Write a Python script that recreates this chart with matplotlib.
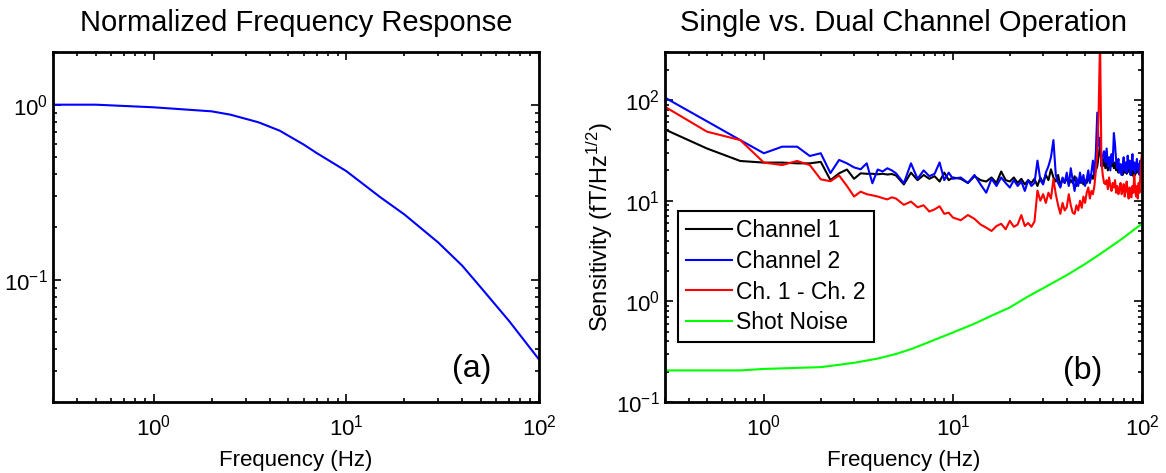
import numpy as np
import matplotlib
matplotlib.use("Agg")
import matplotlib.pyplot as plt
from matplotlib.ticker import NullFormatter, LogLocator

plt.rcParams['font.family'] = ['Liberation Sans', 'DejaVu Sans']
plt.rcParams['mathtext.default'] = 'regular'
plt.rcParams['axes.unicode_minus'] = False

# (a) normalized frequency response
freq_a = [0.3, 0.5, 1.0, 2.0, 2.5, 3.5, 4.5, 6.0, 7.0, 10.0, 15.0, 20.0, 30.0, 40.0, 50.0, 70.0, 100.0]
resp_a = [1.0, 1.0, 0.966, 0.916, 0.877, 0.793, 0.711, 0.592, 0.530, 0.417, 0.296, 0.236, 0.163, 0.120, 0.090, 0.058, 0.035]

# (b) sensitivity spectra, fT/Hz^1/2
freq_b = ([0.25 * k for k in range(1, 21)] + [5.0 + 0.5 * k for k in range(1, 11)]
          + list(range(11, 101)))

ch1 = [59.5, 33, 24.8, 23.9, 23.9, 23.5, 23.5, 24.3, 16, 18.7,
       20.4, 16.5, 18.7, 18.5, 18.5, 18.3, 18.5, 18.2, 18.4, 17.8,
       14.5, 19, 16, 18, 16.5, 17.5, 15.5, 19, 16, 17,
       16.5, 15, 17.5, 16, 15.5, 17, 15, 19.5, 16, 15.5,
       17, 15, 16.5, 14.5, 16, 15, 16.5, 14, 17, 15,
       18, 16, 20.5, 17, 15.5, 18, 14, 16.5, 15, 17,
       14.5, 16, 15, 17.5, 14, 16, 15, 17, 14.5, 16,
       15, 17, 15.5, 18, 16.5, 19, 20, 22, 28, 36,
       24, 22, 26, 21, 24, 20, 23, 27, 22, 25,
       21, 24, 20, 22, 19, 21, 23, 20, 18, 21,
       19, 22, 18.5, 20, 22, 19, 21, 18, 20, 17.5,
       19.5, 18, 21, 19, 22, 20, 23, 21, 24, 22]

ch2 = [128, 61.5, 40, 29.6, 34.4, 34.4, 27.8, 29.6, 18.8, 25.4,
       23.5, 21.4, 20.5, 23.5, 14.9, 20.4, 19.5, 21, 20, 18.7,
       14.9, 23.5, 16.5, 20, 17.5, 18.5, 24, 16, 19, 16.5,
       17, 15, 18, 14.5, 12, 16.5, 14, 17, 15, 13.5,
       16, 14, 15.5, 12.5, 16, 14, 15, 25, 16, 14.5,
       19, 22, 27, 40, 18, 15, 13.5, 17, 15, 19,
       14, 21, 16, 12.5, 17, 14, 19, 15, 18, 14,
       16.5, 20, 15, 19, 25, 18, 30, 75, 35, 42,
       22, 28, 31, 24, 33, 22, 27, 20, 29, 24,
       47, 36, 25, 21, 26, 19, 23, 18, 22, 27,
       20, 24, 19, 28, 21, 25, 18, 23, 29, 20,
       24, 19, 22, 26, 20, 23, 18, 25, 22, 26]

diff12 = [105, 48.5, 40, 23.9, 22.6, 24.8, 22.6, 16.3, 15.6, 17.8,
          14, 11, 12.3, 11.6, 11.3, 11, 10.6, 10.3, 10.8, 10.5,
          9.1, 9.8, 8.6, 9.0, 7.8, 8.2, 8.8, 7.4, 7.6, 6.8,
          6.4, 7.2, 6.6, 5.8, 5.4, 5.0, 5.6, 5.9, 5.2, 6.3,
          5.5, 5.8, 7.2, 5.6, 6.0, 5.5, 6.2, 12.6, 10, 11.6,
          9.5, 12, 10.5, 16.4, 11.6, 9, 7.4, 9.5, 8, 8.6,
          11.6, 9, 7.6, 7.4, 9, 8, 10, 8.5, 11, 9.5,
          12, 13.5, 10.5, 12.5, 11.6, 14, 19.8, 30, 80, 400,
          25, 18, 15, 14.6, 16, 13, 17, 14, 12.5, 15,
          13.5, 16, 12, 14, 11.6, 13, 15, 11.6, 12.5, 14.6,
          11, 13, 15.5, 12, 10.5, 13.5, 11, 10.8, 14, 12,
          18, 13, 11, 14, 10.5, 15, 12, 18, 24, 30]

freq_shot = [0.25, 0.5, 0.75, 1, 2, 3, 4, 5, 6, 7, 8, 10, 13, 16, 20, 25, 30, 40, 50, 60, 70, 80, 90, 100]
shot = [0.206, 0.206, 0.206, 0.213, 0.222, 0.245, 0.27, 0.30, 0.335, 0.375, 0.415, 0.49, 0.60, 0.72,
        0.87, 1.12, 1.35, 1.82, 2.35, 2.95, 3.6, 4.3, 5.1, 5.9]

fig = plt.figure(figsize=(11.66, 4.73), dpi=100)
ax1 = fig.add_axes([53 / 1166, 71 / 473, 486 / 1166, 350 / 473])
ax2 = fig.add_axes([665 / 1166, 71 / 473, 477 / 1166, 350 / 473])

ax1.loglog(freq_a, resp_a, color='#0000ff', lw=1.5)
ax1.set_xlim(0.3, 100)
ax1.set_ylim(0.02, 2)
ax1.set_title('Normalized Frequency Response', fontsize=21, pad=15)
ax1.set_xlabel('Frequency (Hz)', fontsize=16, labelpad=7)
ax1.text(0.862, 0.094, '(a)', transform=ax1.transAxes, fontsize=23, ha='center', va='center')

ax2.loglog(freq_b, ch1, color='black', lw=1.5, label='Channel 1')
ax2.loglog(freq_b, ch2, color='#0000ff', lw=1.5, label='Channel 2')
ax2.loglog(freq_b, diff12, color='#ff0000', lw=1.5, label='Ch. 1 - Ch. 2')
ax2.loglog(freq_shot, shot, color='#00ff00', lw=1.5, label='Shot Noise')
ax2.set_xlim(0.3, 100)
ax2.set_ylim(0.1, 300)
ax2.set_title('Single vs. Dual Channel Operation', fontsize=21, pad=15)
ax2.set_xlabel('Frequency (Hz)', fontsize=16, labelpad=7)
ax2.set_ylabel('Sensitivity (fT/Hz$^{1/2}$)', fontsize=17, labelpad=1)
ax2.text(0.875, 0.088, '(b)', transform=ax2.transAxes, fontsize=23, ha='center', va='center')
leg = ax2.legend(loc='upper left', bbox_to_anchor=(0.027, 0.546), borderaxespad=0,
                 fontsize=16.5, fancybox=False, framealpha=1, edgecolor='black',
                 handlelength=2.0, handletextpad=0.2, labelspacing=0.34, borderpad=0.35)
leg.get_frame().set_linewidth(1.5)

for ax in (ax1, ax2):
    for s in ax.spines.values():
        s.set_linewidth(2)
    ax.tick_params(which='both', direction='in', top=True, right=True, labelsize=16, width=1.2)
    ax.tick_params(which='major', length=6)
    ax.tick_params(which='minor', length=3)
    ax.tick_params(axis='x', which='both', pad=9)
    ax.xaxis.set_minor_locator(LogLocator(base=10, subs=np.arange(2, 10)))
    ax.yaxis.set_minor_locator(LogLocator(base=10, subs=np.arange(2, 10)))
    ax.xaxis.set_minor_formatter(NullFormatter())
    ax.yaxis.set_minor_formatter(NullFormatter())

fig.savefig('out.png', dpi=100)
